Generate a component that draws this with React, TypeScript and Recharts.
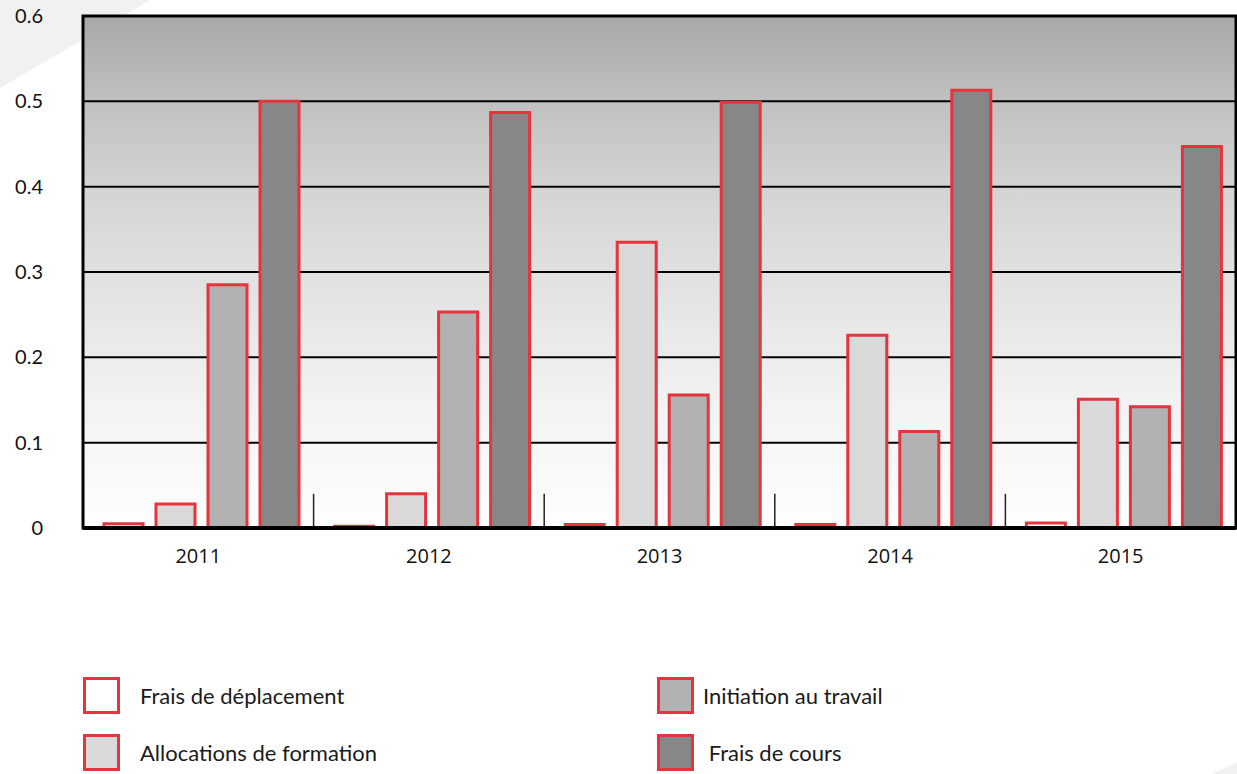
import React from "react";
import {
  BarChart,
  Bar,
  XAxis,
  YAxis,
  CartesianGrid,
  ReferenceLine,
  ReferenceArea,
  Legend,
  Rectangle,
} from "recharts";

const years = ["2011", "2012", "2013", "2014", "2015"];
const fraisDeplacement = [0.005, 0.002, 0.004, 0.004, 0.006];
const allocationsFormation = [0.028, 0.04, 0.335, 0.226, 0.151];
const initiationTravail = [0.285, 0.253, 0.156, 0.113, 0.142];
const fraisCours = [0.5, 0.487, 0.499, 0.513, 0.447];
const yTicks = [0, 0.1, 0.2, 0.3, 0.4, 0.5, 0.6];
const dividerPositions = [1, 2, 3, 4];
const dividerHeight = 0.04;

const seriesNames = [
  "Frais de déplacement",
  "Allocations de formation",
  "Initiation au travail",
  " Frais de cours",
];

const data = years.map((year, i) => ({
  year,
  slot: i + 0.5,
  deplacement: fraisDeplacement[i],
  allocations: allocationsFormation[i],
  initiation: initiationTravail[i],
  cours: fraisCours[i],
}));

const RED = "#e6343e";
const FILLS = ["#ffffff", "#d9d9d9", "#b2b2b2", "#878787"];
const KEYS = ["deplacement", "allocations", "initiation", "cours"];
const LEGEND_TEXT_GAP = [20, 20, 9, 9];
const BAR_NUDGE = 3;

const ShiftedBar = (props: any) => (
  <Rectangle {...props} x={props.x + BAR_NUDGE} />
);

const LegendContent = () => (
  <div
    style={{
      display: "grid",
      gridTemplateColumns: "574px 574px",
      rowGap: 20,
      fontFamily: "Lato, 'Noto Sans', sans-serif",
      fontSize: 22,
      color: "#1a1a1a",
    }}
  >
    {[0, 2, 1, 3].map((idx) => (
      <div key={idx} style={{ display: "flex", alignItems: "center", height: 37 }}>
        <div
          style={{
            width: 31,
            height: 31,
            border: `3px solid ${RED}`,
            background: FILLS[idx],
            flex: "none",
          }}
        />
        <span style={{ marginLeft: LEGEND_TEXT_GAP[idx], whiteSpace: "pre" }}>
          {seriesNames[idx]}
        </span>
      </div>
    ))}
  </div>
);

export default function App() {
  return (
    <div style={{ position: "absolute", left: 0, top: 0, width: 1237, height: 774, background: "#fff" }}>
      <svg
        width={1237}
        height={774}
        style={{ position: "absolute", left: 0, top: 0 }}
      >
        <polygon points="0,0 150,0 0,88" fill="#f1f1f1" />
        <polygon points="1237,762 1237,774 1212,774" fill="#f1f1f1" />
      </svg>
      <div style={{ position: "absolute", left: 0, top: 0 }}>
        <BarChart
          width={1237}
          height={774}
          data={data}
          margin={{ top: 16, right: 1, bottom: 206, left: 0 }}
          barSize={39}
          barGap={13}
        >
          <defs>
            <linearGradient id="plotBg" x1="0" y1="0" x2="0" y2="1">
              <stop offset="0%" stopColor="#a8a8a8" />
              <stop offset="18%" stopColor="#c2c2c2" />
              <stop offset="35%" stopColor="#d5d5d5" />
              <stop offset="52%" stopColor="#e2e2e2" />
              <stop offset="75%" stopColor="#f2f2f2" />
              <stop offset="100%" stopColor="#fefefe" />
            </linearGradient>
          </defs>
          <CartesianGrid
            vertical={false}
            stroke="#000"
            strokeWidth={2}
            fill="url(#plotBg)"
            fillOpacity={1}
          />
          <XAxis
            dataKey="year"
            height={40}
            tickLine={false}
            tickMargin={15}
            axisLine={{ stroke: "#000", strokeWidth: 4 }}
            tick={{ fill: "#111", fontSize: 20, fontFamily: "'Open Sans', sans-serif" }}
          />
          <XAxis
            xAxisId="div"
            dataKey="slot"
            type="number"
            domain={[0, 5]}
            allowDataOverflow
            hide
          />
          <YAxis
            width={83}
            domain={[0, 0.6]}
            ticks={yTicks}
            interval={0}
            tickLine={false}
            axisLine={false}
            tickMargin={34}
            tickFormatter={(v: number) => (v === 0 ? "0" : String(v))}
            tick={{ fill: "#111", fontSize: 20, fontFamily: "Lato, sans-serif" }}
          />
          {KEYS.map((k, i) => (
            <Bar
              key={k}
              dataKey={k}
              name={seriesNames[i]}
              fill={FILLS[i]}
              stroke={RED}
              strokeWidth={3}
              shape={ShiftedBar}
              isAnimationActive={false}
            />
          ))}
          {dividerPositions.map((p) => (
            <ReferenceLine
              key={p}
              xAxisId="div"
              ifOverflow="visible"
              segment={[
                { x: p, y: 0 },
                { x: p, y: dividerHeight },
              ]}
              stroke="#222"
              strokeWidth={1.5}
            />
          ))}
          <ReferenceArea
            xAxisId="div"
            ifOverflow="visible"
            x1={0}
            x2={5}
            y1={0}
            y2={0.6}
            fill="none"
            fillOpacity={0}
            stroke="#000"
            strokeWidth={3}
          />
          <Legend
            layout="vertical"
            align="center"
            verticalAlign="middle"
            wrapperStyle={{ left: 83, top: 677, width: 1148 }}
            content={LegendContent}
          />
        </BarChart>
      </div>
    </div>
  );
}
